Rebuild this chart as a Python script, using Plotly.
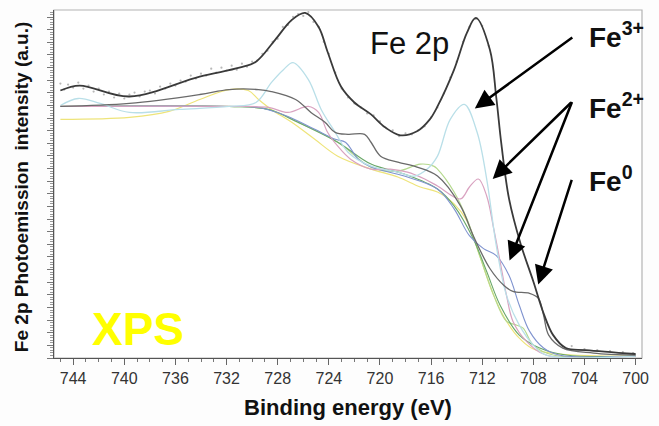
import plotly.graph_objects as go

# ---- data (binding energy in eV, intensity in arbitrary units) ----
env_e = [745.0, 743.5, 739.6, 734.1, 731.0, 729.7, 728.2, 726.9, 725.85, 724.8, 724.1, 723.05, 722.0, 720.7,
         719.6, 718.4, 717.1, 716.1, 715.5, 714.2, 713.2, 712.5, 711.4, 710.9, 710.5, 709.9, 709.0, 708.0,
         707.2, 706.45, 705.45, 703.9, 700.0]
env_i = [269, 274, 263, 283, 292, 298, 320, 340, 347, 333, 308, 273, 257, 245,
         232, 224, 228, 240, 253, 290, 327, 342, 310, 262, 215, 160, 115, 77,
         45, 23, 10, 8, 4]

raw_e = [745.0, 744.7, 744.4, 744.0, 743.6, 743.2, 742.8, 742.4, 742.0, 741.6, 741.2, 740.8, 740.4, 740.0,
         739.6, 739.2, 738.8, 738.4, 738.0, 737.6, 737.2, 736.8, 736.4, 736.0, 735.6, 735.2, 734.8, 734.4,
         734.0, 733.6, 733.2, 732.8, 732.4, 732.0, 731.6, 731.2, 730.8, 730.4, 730.0, 729.6, 729.2, 728.8,
         728.4, 728.0, 727.6, 727.2, 726.8, 726.4, 726.0, 725.6, 725.2, 724.8, 724.4, 724.0, 723.5, 723.0,
         722.5, 722.0, 721.5, 721.0, 720.5, 720.0, 719.5, 719.0, 718.5, 718.0, 717.5, 717.0, 716.5, 716.0,
         715.5, 715.0, 714.5, 714.0, 713.5, 713.0, 712.5, 712.0, 711.5, 705.0, 704.0, 703.0, 702.0, 701.0, 700.2]
raw_i = [276, 270, 275, 272, 277, 271, 274, 268, 271, 265, 268, 262, 266, 261,
         265, 267, 263, 268, 269, 266, 273, 271, 276, 274, 279, 278, 284, 281,
         286, 284, 291, 287, 292, 289, 294, 290, 296, 293, 298, 299, 306, 309,
         318, 321, 333, 335, 343, 346, 344, 348, 338, 333, 318, 306, 287, 271,
         262, 256, 252, 246, 244, 238, 231, 229, 223, 226, 225, 229, 233, 242,
         252, 266, 282, 298, 318, 333, 341, 334, 314, 12, 9, 8, 7, 6, 5]

fe0_e = [745.0, 739.6, 734.1, 731.8, 729.5, 728.5, 726.6, 725.4, 724.3, 723.5, 722.5, 721.2, 720.7, 719.95,
         718.6, 717.1, 715.5, 713.7, 712.7, 711.4, 710.3, 709.6, 708.3, 707.6, 707.2, 706.8, 705.7, 703.3, 700.0]
fe0_i = [253, 256, 265, 270, 270, 268, 260, 247, 237, 227, 225, 225, 217, 203,
         197, 192, 183, 153, 123, 90, 73, 67, 65, 60, 43, 23, 10, 5, 3]

cy_e = [745.0, 743.6, 741.9, 739.6, 735.7, 731.8, 729.7, 728.5, 727.55, 726.8, 725.6, 724.6, 723.5, 722.5,
        720.7, 718.6, 717.3, 716.3, 715.5, 714.5, 713.4, 712.4, 711.65, 710.9, 710.1, 709.1, 708.0, 707.0, 700.0]
cy_i = [254, 261, 256, 247, 250, 253, 257, 277, 290, 297, 280, 250, 227, 207,
        193, 187, 183, 190, 203, 240, 255, 227, 180, 113, 63, 33, 13, 3, 2]

pk_e = [745.0, 731.8, 728.7, 727.2, 725.6, 724.8, 724.1, 723.3, 722.3, 720.7, 719.2, 717.85, 716.5, 715.5,
        713.7, 713.0, 712.3, 711.65, 711.1, 710.6, 710.1, 709.6, 708.55, 707.0, 700.0]
pk_i = [253, 253, 252, 247, 253, 247, 227, 213, 200, 190, 190, 187, 180, 173,
        160, 172, 180, 163, 130, 97, 63, 37, 17, 3, 2]

bl_e = [745.0, 731.8, 729.5, 727.2, 725.1, 723.5, 722.7, 721.7, 720.7, 718.1, 715.5, 714.2, 713.0, 711.9,
        710.9, 709.9, 709.1, 708.3, 707.2, 706.0, 700.0]
bl_i = [253, 253, 252, 243, 230, 220, 217, 200, 192, 183, 170, 150, 123, 110,
        103, 83, 53, 27, 10, 3, 2]

ye_e = [745.0, 739.6, 736.5, 734.1, 731.8, 730.3, 729.5, 728.5, 726.9, 725.1, 723.3, 720.7, 718.6, 716.85,
        715.5, 714.2, 713.2, 712.2, 711.1, 710.1, 709.1, 707.8, 700.0]
ye_i = [240, 242, 248, 260, 270, 269, 260, 250, 237, 220, 203, 190, 182, 172,
        167, 155, 138, 103, 63, 37, 20, 8, 2]

lg_e = [745.0, 731.8, 728.7, 726.4, 723.3, 720.7, 718.6, 716.85, 715.8, 715.5, 714.2, 713.2, 712.2, 711.1,
        710.1, 709.3, 708.8, 708.0, 706.45, 700.0]
lg_i = [253, 253, 250, 237, 217, 192, 188, 195, 193, 190, 167, 140, 103, 63,
        37, 33, 30, 13, 3, 2]

dg_e = [745.0, 731.8, 728.7, 726.4, 723.3, 720.7, 718.1, 715.5, 714.2, 712.7, 711.65, 710.6, 709.1, 707.5,
        705.45, 700.0]
dg_i = [253, 253, 250, 237, 217, 195, 185, 170, 153, 120, 87, 53, 23, 10, 3, 2]

x_ticks = [744, 740, 736, 732, 728, 724, 720, 716, 712, 708, 704, 700]

FONT = "Liberation Sans, Arial, sans-serif"

fig = go.Figure()

def add_line(xs, ys, color, width):
    fig.add_trace(go.Scatter(x=xs, y=ys, mode="lines",
                             line=dict(color=color, width=width, shape="spline", smoothing=1.0),
                             hoverinfo="skip", showlegend=False))

add_line(ye_e, ye_i, "#eee47a", 1.2)
add_line(lg_e, lg_i, "#b5d98e", 1.2)
add_line(dg_e, dg_i, "#6aa86a", 1.1)
add_line(bl_e, bl_i, "#7f93cf", 1.1)
add_line(pk_e, pk_i, "#d9a2c0", 1.2)
add_line(cy_e, cy_i, "#b9dfe8", 1.3)
add_line(fe0_e, fe0_i, "#6a6a6a", 1.3)

fig.add_trace(go.Scatter(x=raw_e, y=raw_i, mode="markers",
                         marker=dict(color="#b8b8b8", size=2.2),
                         hoverinfo="skip", showlegend=False))
add_line(env_e, env_i, "#3a3a3a", 1.8)

# frame (light grey box)
fig.add_shape(type="rect", xref="paper", yref="paper", x0=0, y0=0, x1=1, y1=1,
              line=dict(color="#b4b4b4", width=1.2), layer="below")

annotations = []
annotations.append(dict(text="Fe 2p", xref="x", yref="y", x=720.96, y=316, xanchor="left", yanchor="middle",
                        showarrow=False, font=dict(family=FONT, size=31, color="#111111")))
annotations.append(dict(text="<b>XPS</b>", xref="x", yref="y", x=742.7, y=29, xanchor="left", yanchor="middle",
                        showarrow=False, font=dict(family=FONT, size=46, color="#ffff00")))
for txt, yy in [("<b>Fe<sup>3+</sup></b>", 325), ("<b>Fe<sup>2+</sup></b>", 253), ("<b>Fe<sup>0</sup></b>", 180)]:
    annotations.append(dict(text=txt, xref="x", yref="y", x=703.8, y=yy, xanchor="left", yanchor="middle",
                            showarrow=False, font=dict(family=FONT, size=28, color="#111111")))

# arrows: (tip energy, tip intensity, tail offset px)
arrows = [(712.58, 251, 99, -72), (711.18, 180, 80, -78), (709.86, 98, 63, -160), (707.62, 74, 34, -106)]
for ex, iy, axp, ayp in arrows:
    annotations.append(dict(text="", xref="x", yref="y", x=ex, y=iy, ax=axp, ay=ayp, axref="pixel", ayref="pixel",
                            showarrow=True, arrowhead=2, arrowsize=1.5, arrowwidth=2.5, arrowcolor="#000000"))

annotations.append(dict(text="<b>Fe 2p Photoemission  intensity (a.u.)</b>", xref="paper", yref="paper",
                        x=-0.055, y=0.49, xanchor="center", yanchor="middle", textangle=-90, showarrow=False,
                        font=dict(family=FONT, size=19, color="#111111")))

fig.update_layout(
    width=659, height=426,
    margin=dict(l=54, r=12, t=10, b=66),
    paper_bgcolor="#fdfdfd", plot_bgcolor="#ffffff",
    annotations=annotations,
    showlegend=False,
    xaxis=dict(range=[745.5, 699.5], tickvals=x_ticks, ticktext=[str(v) for v in x_ticks],
               ticks="outside", ticklen=6, tickcolor="#666666", tickwidth=1,
               minor=dict(dtick=1, ticks="outside", ticklen=3, tickcolor="#777777"),
               showline=True, linecolor="#555555", linewidth=1, showgrid=False, zeroline=False,
               tickfont=dict(family=FONT, size=16, color="#333333"),
               title=dict(text="<b>Binding energy (eV)</b>", font=dict(family=FONT, size=22, color="#111111"),
                          standoff=13)),
    yaxis=dict(range=[0, 350], tick0=0, dtick=12.7, ticks="outside", ticklen=6, tickcolor="#777777",
               minor=dict(dtick=2.54, ticks="outside", ticklen=3, tickcolor="#999999"),
               showticklabels=False, showline=True, linecolor="#555555", linewidth=1,
               showgrid=False, zeroline=False),
)

fig.write_html("out.html")
